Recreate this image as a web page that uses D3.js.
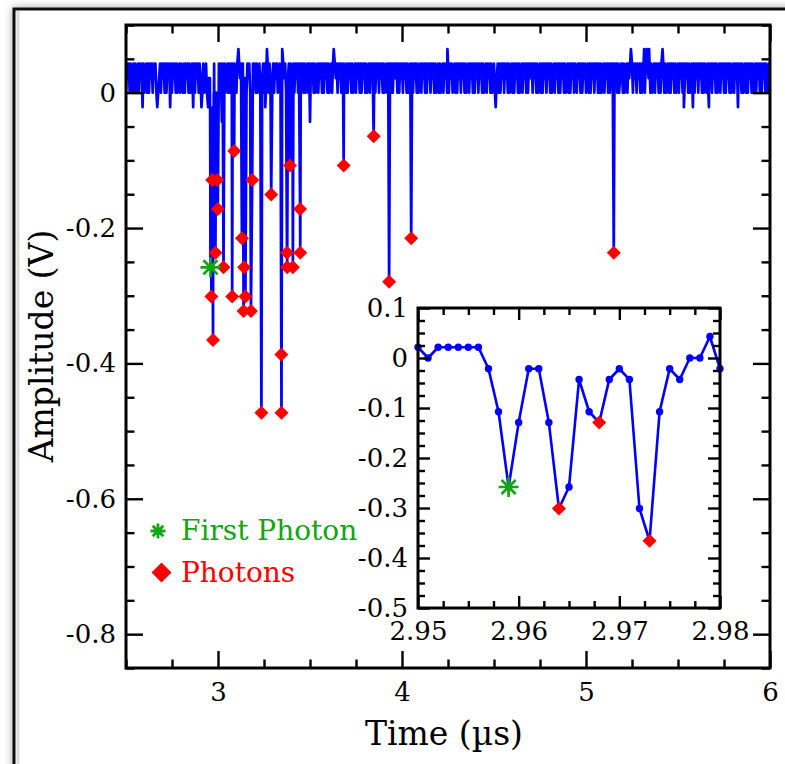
<!DOCTYPE html>
<html>
<head>
<meta charset="utf-8">
<script src="https://cdn.jsdelivr.net/npm/d3@7"></script>
<style>
  body { margin: 0; background: #fff; }
  svg { display: block; }
</style>
</head>
<body>
<svg id="chart" width="785" height="764"></svg>
<script>
// ---- Trace: baseline noise, sampled every 5 ns from 2.5 us ----
// level codes: "2" = 0 V, "3" = 0.0215 V, "4" = 0.043 V
const traceStart = 2.5;
const traceStep = 0.005;
const baselineCodes = [
  "2434242342432424342423424243424342423424342424342",
  "4243424234243242434242342424342434242342434242434",
  "2434243424234242434243242434242342434242434242342",
  "4342423424342424342342424342434242342434242434242",
  "3424243424234243424243424234242434243424243242434",
  "2423424342424342423424342424342434242342434242434",
  "4242434243424234242434242342434242434243424234242",
  "3424342424342342424342434242342434242434243424234",
  "2434242342434242434243424234242434242342434242434",
  "4243424234242434243424234243424243424234242434243",
  "2434242434234242434243424242342434242434243424234",
  "4242342434242434243424234242434242342434242434242",
  "3424243424234243424243424234242434243424243242434",
  "2434242342434242434242342434243424234242434242342",
  "4342424342423424342424342434242342434242434243424"
].join("");
const levelVolts = { "2": 0, "3": 0.0215, "4": 0.043 };

// Full-rate samples (1 ns) around the first detected photon
const insetTimes = [2.950, 2.951, 2.952, 2.953, 2.954, 2.955, 2.956, 2.957, 2.958, 2.959,
                    2.960, 2.961, 2.962, 2.963, 2.964, 2.965, 2.966, 2.967, 2.968, 2.969,
                    2.970, 2.971, 2.972, 2.973, 2.974, 2.975, 2.976, 2.977, 2.978, 2.979, 2.980];
const insetAmps = [0.0215, 0, 0.0215, 0.0215, 0.0215, 0.0215, 0.0215, -0.0215, -0.1075, -0.258,
                   -0.129, -0.0215, -0.0215, -0.129, -0.301, -0.258, -0.043, -0.1075, -0.129, -0.043,
                   -0.0215, -0.043, -0.301, -0.3655, -0.1075, -0.0215, -0.043, 0, 0, 0.043, -0.0215];

// Pulse samples of the trace after 2.98 us
const pulseTimes = [2.986, 2.996, 2.999, 3.021, 3.030, 3.077, 3.088, 3.130, 3.139, 3.142,
                    3.149, 3.179, 3.186, 3.236, 3.289, 3.344, 3.345, 3.375, 3.376, 3.391,
                    3.407, 3.446, 3.447, 3.500, 3.683, 3.846, 3.930, 4.050, 5.151];
const pulseAmps = [-0.2365, -0.129, -0.172, -0.043, -0.258, -0.301, -0.086, -0.215, -0.3225, -0.258,
                   -0.301, -0.3225, -0.129, -0.473, -0.1505, -0.387, -0.473, -0.2365, -0.258, -0.1075,
                   -0.258, -0.172, -0.2365, -0.043, -0.1075, -0.0645, -0.2795, -0.215, -0.2365];

// Single-sample noise excursions
const spikeTimes = [2.590, 2.670, 2.740, 2.865, 2.910, 2.946, 3.111, 3.257, 3.266, 3.349,
                    3.629, 4.247, 4.509, 5.244, 5.316, 5.330, 5.343, 5.416, 5.532, 5.581,
                    5.668, 5.826];
const spikeAmps = [-0.0215, -0.0215, -0.0215, -0.0215, -0.0215, -0.0215, 0.0645, -0.0215, 0.0645, 0.0645,
                   0.0645, 0.0645, -0.0215, 0.0645, 0.0645, 0.0645, 0.0645, 0.0645, -0.0215, -0.0215,
                   -0.0215, -0.0215];

// Detected photons
const photonTimes = [2.964, 2.968, 2.973, 2.986, 2.996, 2.999, 3.030, 3.077, 3.088, 3.130,
                     3.139, 3.142, 3.149, 3.179, 3.186, 3.236, 3.289, 3.344, 3.345, 3.375,
                     3.376, 3.391, 3.407, 3.446, 3.447, 3.683, 3.846, 3.930, 4.050, 5.151];
const photonAmps = [-0.301, -0.129, -0.3655, -0.2365, -0.129, -0.172, -0.258, -0.301, -0.086, -0.215,
                    -0.3225, -0.258, -0.301, -0.3225, -0.129, -0.473, -0.1505, -0.387, -0.473, -0.2365,
                    -0.258, -0.1075, -0.258, -0.172, -0.2365, -0.1075, -0.0645, -0.2795, -0.215, -0.2365];
const firstPhotonTime = 2.959;
const firstPhotonAmp = -0.258;

// Tick labels
const mainXTicks = [3, 4, 5, 6];
const mainYTicks = [0, -0.2, -0.4, -0.6, -0.8];
const insetXTicks = [2.95, 2.96, 2.97, 2.98];
const insetYTicks = [0.1, 0, -0.1, -0.2, -0.3, -0.4, -0.5];

const legendLabels = ["First Photon", "Photons"];
const xTitle = "Time (\u00b5s)";
const yTitle = "Amplitude (V)";

// ---- Styles ----
const FONT = "'DejaVu Serif', serif";
const BLUE = "#0000ff", RED = "#ff0000", GREEN = "#12a612";

const svg = d3.select("#chart");
const W = 785, H = 764;

// ---- Figure frame with soft shadow ----
const defs = svg.append("defs");
const shadow = defs.append("filter").attr("id", "frameShadow")
  .attr("x", "-10%").attr("y", "-10%").attr("width", "120%").attr("height", "120%");
shadow.append("feDropShadow").attr("dx", 0).attr("dy", 0)
  .attr("stdDeviation", 4).attr("flood-color", "#000").attr("flood-opacity", 0.35);

svg.append("rect").attr("x", 14).attr("y", 9).attr("width", W).attr("height", H)
  .attr("fill", "#fff").attr("stroke", "#111").attr("stroke-width", 3)
  .attr("filter", "url(#frameShadow)");
svg.append("line").attr("x1", 18).attr("x2", 18).attr("y1", 11).attr("y2", H)
  .attr("stroke", "#dcdcdc").attr("stroke-width", 3);

// ---- Axis helper: inward ticks mirrored on all four sides ----
function frameAxes(g, xs, ys, o) {
  const [xa, xb] = xs.range();
  const [yb, ya] = ys.range();
  const fmt = d => String(d);
  const add = (axis, tx, ty) => g.append("g").attr("transform", `translate(${tx},${ty})`).call(axis);

  add(d3.axisBottom(xs).tickValues(o.xMajor).tickSize(-o.major).tickPadding(o.xPad).tickFormat(fmt), 0, yb);
  add(d3.axisBottom(xs).tickValues(o.xMinor).tickSize(-o.minor).tickFormat(""), 0, yb);
  add(d3.axisTop(xs).tickValues(o.xMajor).tickSize(-o.major).tickFormat(""), 0, ya);
  add(d3.axisTop(xs).tickValues(o.xMinor).tickSize(-o.minor).tickFormat(""), 0, ya);
  add(d3.axisLeft(ys).tickValues(o.yMajor).tickSize(-o.major).tickPadding(o.yPad).tickFormat(fmt), xa, 0);
  add(d3.axisLeft(ys).tickValues(o.yMinor).tickSize(-o.minor).tickFormat(""), xa, 0);
  add(d3.axisRight(ys).tickValues(o.yMajor).tickSize(-o.major).tickFormat(""), xb, 0);
  add(d3.axisRight(ys).tickValues(o.yMinor).tickSize(-o.minor).tickFormat(""), xb, 0);

  g.selectAll(".domain").remove();
  g.selectAll(".tick line").attr("stroke", "#000").attr("stroke-width", 2.4);
  g.selectAll(".tick text").attr("font-family", FONT).attr("font-size", o.fontSize).attr("fill", "#000");

  g.append("rect").attr("x", xa).attr("y", ya).attr("width", xb - xa).attr("height", yb - ya)
    .attr("fill", "none").attr("stroke", "#000").attr("stroke-width", 3);
}

const diamond = (cx, cy, r) => `M${cx},${cy - r}L${cx + r},${cy}L${cx},${cy + r}L${cx - r},${cy}Z`;
function star(g, cx, cy, r, w) {
  const d = r * Math.SQRT1_2;
  const p = `M${cx - r},${cy}L${cx + r},${cy}M${cx},${cy - r}L${cx},${cy + r}` +
            `M${cx - d},${cy - d}L${cx + d},${cy + d}M${cx - d},${cy + d}L${cx + d},${cy - d}`;
  g.append("path").attr("d", p).attr("stroke", GREEN).attr("stroke-width", w).attr("fill", "none");
}

// ---- Main panel ----
const M = { left: 126, right: 770, top: 25, bottom: 668 };
const x = d3.scaleLinear().domain([2.5, 6]).range([M.left, M.right]);
const y = d3.scaleLinear().domain([-0.85, 0.1]).range([M.bottom, M.top]);

defs.append("clipPath").attr("id", "mainClip").append("rect")
  .attr("x", M.left).attr("y", M.top).attr("width", M.right - M.left).attr("height", M.bottom - M.top);

// assemble the trace: baseline samples, replaced where denser samples exist
const extra = [];
insetTimes.forEach((t, i) => extra.push([t, insetAmps[i]]));
pulseTimes.forEach((t, i) => extra.push([t, pulseAmps[i]]));
spikeTimes.forEach((t, i) => extra.push([t, spikeAmps[i]]));
const trace = [];
for (let i = 0; i < baselineCodes.length; i++) {
  const t = traceStart + i * traceStep;
  if (t > 6.0001) break;
  if (t >= 2.9495 && t <= 2.9805) continue;
  if (extra.some(e => Math.abs(e[0] - t) < 0.0015)) continue;
  trace.push([t, levelVolts[baselineCodes[i]]]);
}
trace.push(...extra);
trace.sort((a, b) => a[0] - b[0]);

const mainG = svg.append("g");
const plotG = mainG.append("g").attr("clip-path", "url(#mainClip)");
plotG.append("path").datum(trace)
  .attr("d", d3.line().x(d => x(d[0])).y(d => y(d[1])))
  .attr("fill", "none").attr("stroke", BLUE).attr("stroke-width", 2.7).attr("stroke-linejoin", "round");

plotG.selectAll("path.photon").data(photonTimes).join("path").attr("class", "photon")
  .attr("d", (t, i) => diamond(x(t), y(photonAmps[i]), 7)).attr("fill", RED);
star(plotG, x(firstPhotonTime), y(firstPhotonAmp), 10, 2.7);

frameAxes(mainG, x, y, {
  xMajor: mainXTicks, xMinor: d3.range(2.5, 6.001, 0.25).filter(v => Math.abs(v - Math.round(v)) > 0.01),
  yMajor: mainYTicks, yMinor: d3.range(-0.85, 0.1001, 0.05).filter(v => Math.abs(v * 5 - Math.round(v * 5)) > 0.01),
  major: 17, minor: 8.5, xPad: 15, yPad: 10, fontSize: 26
});

// axis titles
svg.append("text").attr("x", (M.left + M.right) / 2 - 4).attr("y", 745)
  .attr("text-anchor", "middle").attr("font-family", FONT).attr("font-size", 33).text(xTitle);
svg.append("text").attr("transform", `translate(53,346) rotate(-90)`)
  .attr("text-anchor", "middle").attr("font-family", FONT).attr("font-size", 33).text(yTitle);

// legend
star(svg, 158, 531, 7.5, 2.8);
svg.append("path").attr("d", diamond(161.5, 572.5, 10)).attr("fill", RED);
svg.append("text").attr("x", 181).attr("y", 540).attr("font-family", FONT).attr("font-size", 28)
  .attr("fill", GREEN).text(legendLabels[0]);
svg.append("text").attr("x", 181).attr("y", 582).attr("font-family", FONT).attr("font-size", 28)
  .attr("fill", RED).text(legendLabels[1]);

// ---- Inset panel ----
const I = { left: 418, right: 720, top: 308, bottom: 608 };
const xi = d3.scaleLinear().domain([2.95, 2.98]).range([I.left, I.right]);
const yi = d3.scaleLinear().domain([-0.5, 0.1]).range([I.bottom, I.top]);
const insetG = svg.append("g");
insetG.append("rect").attr("x", I.left).attr("y", I.top)
  .attr("width", I.right - I.left).attr("height", I.bottom - I.top).attr("fill", "#fff");

insetG.append("path").datum(insetTimes)
  .attr("d", d3.line().x(t => xi(t)).y((t, i) => yi(insetAmps[i])))
  .attr("fill", "none").attr("stroke", BLUE).attr("stroke-width", 2.6);
insetG.selectAll("circle").data(insetTimes).join("circle")
  .attr("cx", t => xi(t)).attr("cy", (t, i) => yi(insetAmps[i])).attr("r", 3.7).attr("fill", BLUE);

const insetPhotons = photonTimes.map((t, i) => [t, photonAmps[i]]).filter(p => p[0] <= 2.98);
insetG.append("path").attr("d", diamond(xi(firstPhotonTime), yi(firstPhotonAmp), 4)).attr("fill", RED);
insetG.selectAll("path.photon").data(insetPhotons).join("path").attr("class", "photon")
  .attr("d", p => diamond(xi(p[0]), yi(p[1]), 7)).attr("fill", RED);
star(insetG, xi(firstPhotonTime), yi(firstPhotonAmp), 10, 2.7);

frameAxes(insetG, xi, yi, {
  xMajor: insetXTicks, xMinor: d3.range(2.95, 2.9801, 0.0025).filter(v => Math.abs(v * 100 - Math.round(v * 100)) > 0.01),
  yMajor: insetYTicks, yMinor: d3.range(-0.5, 0.1001, 0.025).filter(v => Math.abs(v * 10 - Math.round(v * 10)) > 0.01),
  major: 12, minor: 7, xPad: 14, yPad: 10, fontSize: 26
});
</script>
</body>
</html>
